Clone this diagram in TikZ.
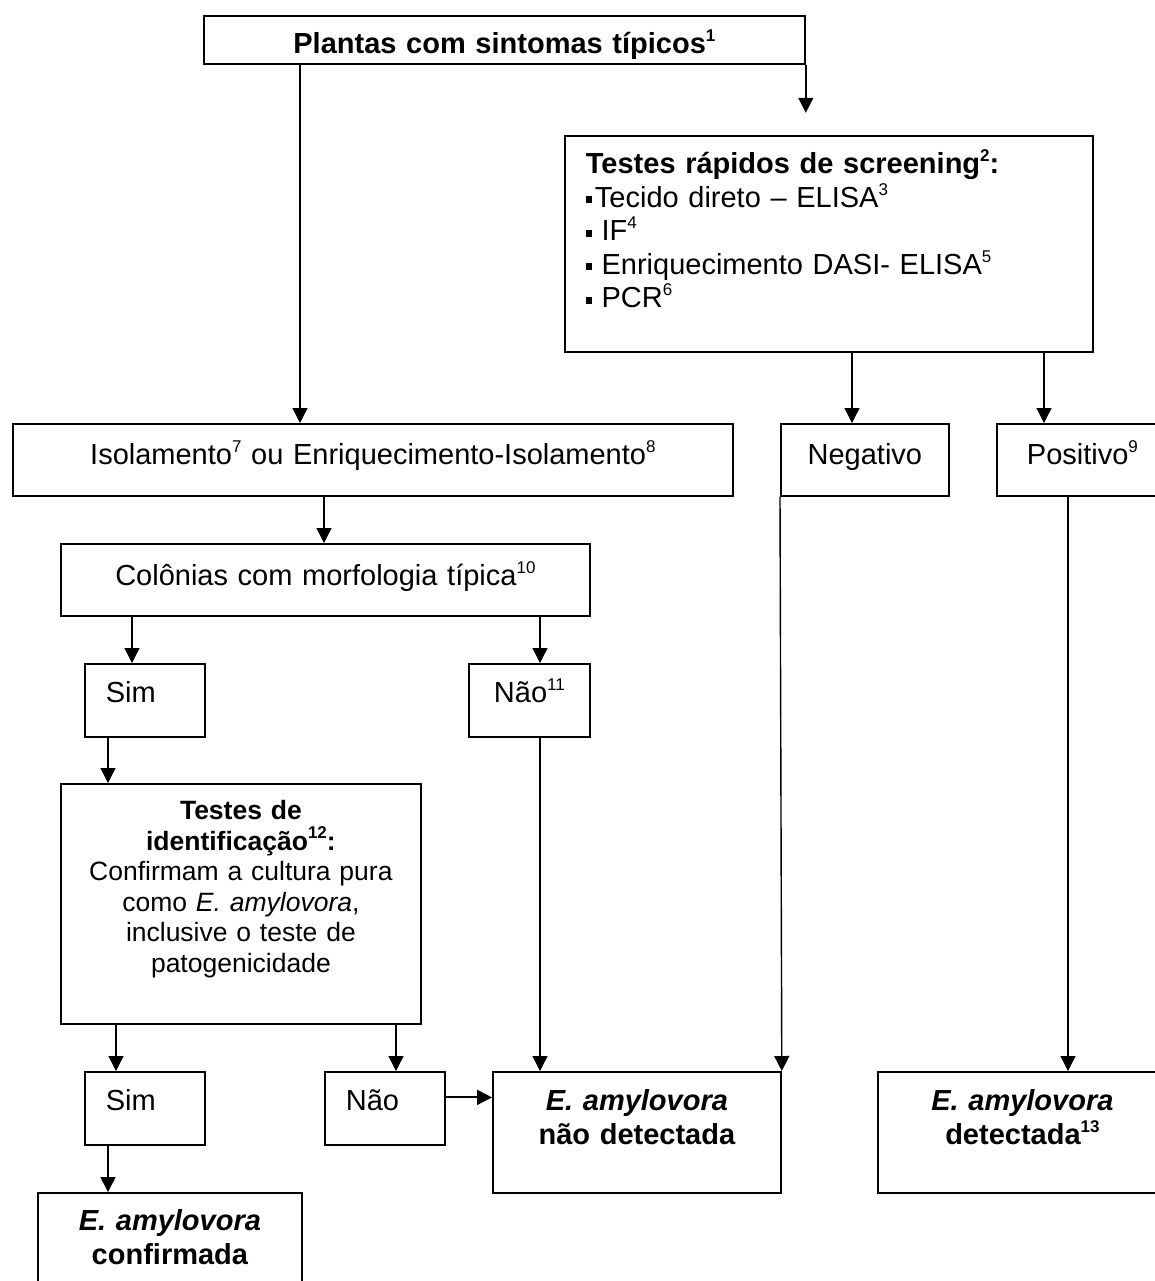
\documentclass[tikz,border=0pt]{standalone}
\usepackage{fontspec}
\setmainfont{Liberation Sans}
\usetikzlibrary{arrows.meta,calc}
\newcommand{\expo}[1]{\raisebox{12pt}{\fontsize{17}{17}\selectfont #1}}
\newcommand{\quadrado}{\rule[4pt]{6pt}{7pt}}
\tikzset{
  caixa/.style={draw, line width=1.8pt, rectangle, inner sep=0pt, anchor=north west, align=center, font=\fontsize{29}{33.5}\selectfont},
  esq/.style={align=left, inner xsep=21pt},
  seta/.style={-{Triangle[length=15pt,width=15pt]}, line width=1.4pt}
}
\begin{document}
\begin{tikzpicture}[x=1pt, y=-1pt]
  \path[use as bounding box, fill=white] (0,0) rectangle (1155,1281);
  \clip (0,0) rectangle (1155,1281);
  % boxes
  \node[caixa, text width=601pt, text height=38pt, text depth=10pt, font=\fontsize{29}{33.5}\selectfont\bfseries] (plantas) at (203,15) {Plantas com sintomas típicos\expo{1}};
  \node[caixa, esq, text width=486pt, text height=38pt, text depth=178pt] (scr) at (564,135) {\textbf{Testes rápidos de screening\expo{2}:}\\
    \quadrado\hspace{3pt}Tecido direto – ELISA\expo{3}\\
    \quadrado{} IF\expo{4}\\
    \quadrado{} Enriquecimento DASI- ELISA\expo{5}\\
    \quadrado{} PCR\expo{6}};
  \node[caixa, text width=720pt, text height=41pt, text depth=31pt] (isol) at (12,423) {Isolamento\expo{7} ou Enriquecimento-Isolamento\expo{8}};
  \node[caixa, text width=168pt, text height=41pt, text depth=31pt] (neg) at (780,423) {Negativo};
  \node[caixa, text width=171pt, text height=41pt, text depth=31pt] (pos) at (996,423) {Positivo\expo{9}};
  \node[caixa, text width=529pt, text height=42pt, text depth=30pt] (col) at (60,543) {Colônias com morfologia típica\expo{10}};
  \node[caixa, esq, text width=78pt, text height=39pt, text depth=34pt] (sim1) at (84,663) {Sim};
  \node[caixa, text width=121pt, text height=39pt, text depth=34pt] (nao1) at (468,663) {Não\expo{11}};
  \node[caixa, text width=360pt, text height=36pt, text depth=204pt, font=\fontsize{26.5}{30.5}\selectfont] (testes) at (60,783) {\textbf{Testes de}\\
    \textbf{identificação\expo{12}:}\\
    Confirmam a cultura pura\\
    como \textit{E. amylovora},\\
    inclusive o teste de\\
    patogenicidade};
  \node[caixa, esq, text width=78pt, text height=39pt, text depth=34pt] (sim2) at (84,1071) {Sim};
  \node[caixa, esq, text width=78pt, text height=39pt, text depth=34pt] (nao2) at (324,1071) {Não};
  \node[caixa, text width=288pt, text height=39pt, text depth=82pt, font=\fontsize{29}{33.5}\selectfont\bfseries] (naodet) at (492,1071) {\textit{E. amylovora}\\não detectada};
  \node[caixa, text width=289pt, text height=39pt, text depth=82pt, font=\fontsize{29}{33.5}\selectfont\bfseries] (det) at (877,1071) {\textit{E. amylovora}\\detectada\expo{13}};
  \node[caixa, text width=264pt, text height=38pt, text depth=120pt, font=\fontsize{29}{33.5}\selectfont\bfseries] (conf) at (37,1192) {\textit{E. amylovora}\\confirmada};
  % connectors
  \coordinate (c1) at ([xshift=97pt]plantas.south west);
  \draw[seta] (c1) -- (c1 |- isol.north);
  \coordinate (c2) at ([yshift=-48pt]plantas.south east);
  \draw[seta] (plantas.south east) -- (c2);
  \coordinate (c3) at ([xshift=288pt]scr.south west);
  \draw[seta] (c3) -- (c3 |- neg.north);
  \coordinate (c4) at ([xshift=480pt]scr.south west);
  \draw[seta] (c4) -- (c4 |- pos.north);
  \coordinate (c5) at ([xshift=312pt]isol.south west);
  \draw[seta] (c5) -- (c5 |- col.north);
  \coordinate (c6) at ([xshift=72pt]col.south west);
  \draw[seta] (c6) -- (c6 |- sim1.north);
  \coordinate (c7) at ([xshift=480pt]col.south west);
  \draw[seta] (c7) -- (c7 |- nao1.north);
  \coordinate (c8) at ([xshift=24pt]sim1.south west);
  \draw[seta] (c8) -- (c8 |- testes.north);
  \coordinate (c9) at ([xshift=56pt]testes.south west);
  \draw[seta] (c9) -- (c9 |- sim2.north);
  \coordinate (c10) at ([xshift=336pt]testes.south west);
  \draw[seta] (c10) -- (c10 |- nao2.north);
  \coordinate (c11) at ([xshift=72pt]nao1.south west);
  \draw[seta] (c11) -- (c11 |- naodet.north);
  \draw[seta] (neg.south west) -- (naodet.north east);
  \coordinate (c12) at ([xshift=72pt]pos.south west);
  \draw[seta] (c12) -- (c12 |- det.north);
  \coordinate (c13) at ([yshift=11pt]nao2.east);
  \draw[seta, line width=2pt] (c13) -- (c13 -| naodet.west);
  \coordinate (c14) at ([xshift=24pt]sim2.south west);
  \draw[seta] (c14) -- (c14 |- conf.north);
\end{tikzpicture}
\end{document}
